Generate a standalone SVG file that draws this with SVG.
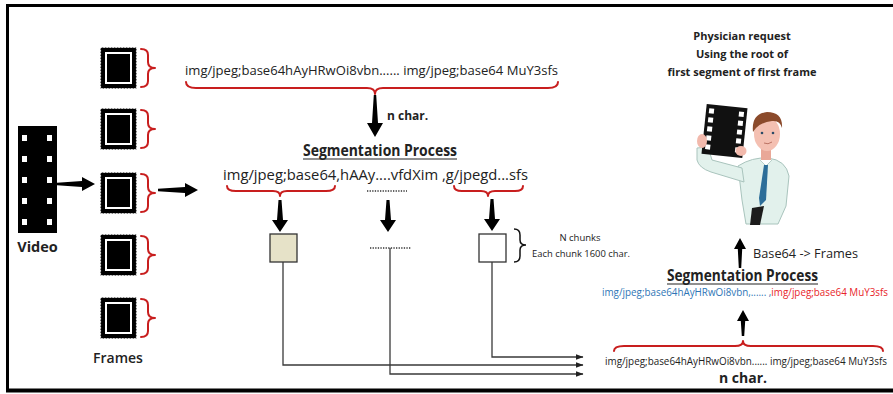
<svg xmlns="http://www.w3.org/2000/svg" width="893" height="394" viewBox="0 0 893 394">
  <defs>
    <style>
      .t { font-family: "Open Sans", "Liberation Sans", sans-serif; fill: #222; }
      .b { font-weight: bold; }
      .brace { fill: none; stroke: #c81e1e; stroke-width: 2; stroke-linecap: round; stroke-linejoin: round; }
      .blk { fill: #000; }
      .wire { fill: none; stroke: #3a3a3a; stroke-width: 1.3; }
      .frame-outer { fill: #000; stroke: #fff; stroke-width: 1.2; stroke-dasharray: 1.2 1.8; }
      .coat { fill: #e2f1ec; stroke: #a9c4bd; stroke-width: 1; }
      .skin { fill: #f2b9ac; }
    </style>
    <marker id="tip" viewBox="0 0 8 6" refX="7.5" refY="3" markerWidth="8" markerHeight="6" markerUnits="userSpaceOnUse" orient="auto">
      <path d="M0,0 L8,3 L0,6 Z" fill="#222"/>
    </marker>
    <!-- postage-stamp style frame icon, 37 x 42 -->
    <g id="stamp">
      <rect x="0.5" y="0.5" width="36" height="41" class="frame-outer"/>
      <rect x="5" y="5" width="27" height="32" fill="#fff"/>
      <rect x="7" y="7" width="23" height="28" fill="#000"/>
    </g>
    <path id="rbrace" class="brace" d="M0,2 Q7,2 7,8 L7,15 Q7,21 14,21 Q7,21 7,27 L7,34 Q7,40 0,40"/>
  </defs>

  <!-- outer frame -->
  <g id="border" fill="none" stroke="#000">
    <line x1="7.5" y1="4" x2="7.5" y2="392" stroke-width="3"/>
    <line x1="6" y1="5.5" x2="893" y2="5.5" stroke-width="3"/>
    <line x1="6" y1="390.5" x2="893" y2="390.5" stroke-width="4"/>
  </g>

  <!-- video film strip -->
  <g id="video">
    <rect x="18" y="126" width="39" height="107" fill="#000"/>
    <g fill="#fff">
      <rect x="22" y="135" width="5" height="6"/><rect x="47" y="135" width="5" height="6"/>
      <rect x="22" y="156" width="5" height="6"/><rect x="47" y="156" width="5" height="6"/>
      <rect x="22" y="177" width="5" height="6"/><rect x="47" y="177" width="5" height="6"/>
      <rect x="22" y="198" width="5" height="6"/><rect x="47" y="198" width="5" height="6"/>
      <rect x="22" y="219" width="5" height="6"/><rect x="47" y="219" width="5" height="6"/>
    </g>
    <text class="t b" x="37.5" y="252" font-size="14.5" text-anchor="middle">Video</text>
  </g>

  <!-- extracted frames -->
  <g id="frames">
    <use href="#stamp" x="100" y="47"/>
    <use href="#stamp" x="100" y="108"/>
    <use href="#stamp" x="100" y="172"/>
    <use href="#stamp" x="100" y="234"/>
    <use href="#stamp" x="100" y="297"/>
    <use href="#rbrace" x="141" y="47"/>
    <use href="#rbrace" x="141" y="108"/>
    <use href="#rbrace" x="141" y="172"/>
    <use href="#rbrace" x="141" y="234"/>
    <use href="#rbrace" x="141" y="297"/>
    <text class="t" x="118" y="363" font-size="14" font-weight="600" text-anchor="middle">Frames</text>
  </g>

  <!-- base64 string of one frame -->
  <g id="frame-string">
    <text class="t" x="185" y="75" font-size="13" textLength="373" lengthAdjust="spacingAndGlyphs">img/jpeg;base64hAyHRwOi8vbn...... img/jpeg;base64 MuY3sfs</text>
    <path class="brace" d="M186,82 Q186,88 196,88 L367,88 Q375,88 375,94 Q375,88 383,88 L548,88 Q558,88 558,82"/>
    <text class="t b" x="387" y="120" font-size="12">n char.</text>
  </g>

  <!-- segmentation of the string -->
  <g id="segmentation">
    <text class="t b" x="380" y="156" font-size="16" text-anchor="middle" textLength="154" lengthAdjust="spacingAndGlyphs">Segmentation Process</text>
    <line x1="303" y1="159" x2="457" y2="159" stroke="#222" stroke-width="1.2"/>
    <text class="t" x="223" y="180" font-size="15" textLength="305" lengthAdjust="spacingAndGlyphs">img/jpeg;base64,hAAy....vfdXim ,g/jpegd...sfs</text>
    <path class="brace" d="M227,186 Q227,191 236,191 L273,191 Q280,191 280,196 Q280,191 287,191 L326,191 Q335,191 335,186"/>
    <path class="brace" d="M454,186 Q454,191 462,191 L481,191 Q488,191 488,196 Q488,191 495,191 L515,191 Q523,191 523,186"/>
    <line x1="367" y1="191" x2="407" y2="191" stroke="#333" stroke-width="1.3" stroke-dasharray="1.3 1.3"/>
  </g>

  <!-- chunks -->
  <g id="chunk-first">
    <rect x="270" y="234" width="27" height="28" fill="#e6e2c8" stroke="#333" stroke-width="1.3"/>
  </g>
  <g id="chunk-middle">
    <line x1="370" y1="248" x2="411" y2="248" stroke="#333" stroke-width="1.3" stroke-dasharray="1.3 1.3"/>
  </g>
  <g id="chunk-last">
    <rect x="479" y="234" width="27" height="28" fill="#fff" stroke="#333" stroke-width="1.3"/>
    <path d="M514,229 Q520,229 520,235 L520,240 Q520,245 526,245 Q520,245 520,250 L520,256 Q520,262 514,262" fill="none" stroke="#111" stroke-width="1.5"/>
    <text class="t" x="580" y="241" font-size="9.5" text-anchor="middle">N chunks</text>
    <text class="t" x="532" y="257" font-size="9.5" textLength="98" lengthAdjust="spacingAndGlyphs">Each chunk 1600 char.</text>
  </g>

  <!-- physician -->
  <g id="physician">
    <text class="t b" x="742" y="40" font-size="11" text-anchor="middle">Physician request</text>
    <text class="t b" x="742" y="58" font-size="11" text-anchor="middle">Using the root of</text>
    <text class="t b" x="742" y="76" font-size="11" text-anchor="middle">first segment of first frame</text>
    <!-- coat body, tapering toward the hem -->
    <path class="coat" d="M738,166 Q752,157 768,158 Q786,160 789,176 L786,206 L778,224 L746,224 L742,200 Z"/>
    <!-- raised arm: forearm up to the film, upper arm back to the shoulder -->
    <path class="coat" d="M697,148 L708,147 L712,160 L742,168 L744,182 L711,172 Q699,168 697,160 Z"/>
    <!-- x-ray film -->
    <g transform="rotate(6 724 131)">
      <rect x="704" y="106" width="41" height="50" fill="#111"/>
      <g fill="#fff">
        <rect x="707" y="110" width="5" height="5"/><rect x="737" y="110" width="5" height="5"/>
        <rect x="707" y="119" width="5" height="5"/><rect x="737" y="119" width="5" height="5"/>
        <rect x="707" y="128" width="5" height="5"/><rect x="737" y="128" width="5" height="5"/>
        <rect x="707" y="137" width="5" height="5"/><rect x="737" y="137" width="5" height="5"/>
        <rect x="707" y="146" width="5" height="5"/><rect x="737" y="146" width="5" height="5"/>
      </g>
    </g>
    <!-- hands -->
    <ellipse class="skin" cx="702" cy="141" rx="5" ry="7"/>
    <ellipse class="skin" cx="741" cy="151" rx="5.5" ry="5"/>
    <!-- neck and head -->
    <rect x="761" y="148" width="10" height="12" fill="#e9a898"/>
    <ellipse cx="767" cy="134" rx="13" ry="17" fill="#f4c0b2"/>
    <path d="M753,132 Q751,114 767,112 Q783,112 782,128 Q780,120 772,121 Q762,122 756,128 Z" fill="#8b4a2b"/>
    <circle cx="762" cy="133" r="1.3" fill="#2b4a66"/>
    <circle cx="773" cy="133" r="1.3" fill="#2b4a66"/>
    <path d="M764,143 Q768,145 772,142" fill="none" stroke="#b46a5a" stroke-width="0.9"/>
    <!-- collar, tie and trousers -->
    <path d="M760,160 L766,166 L772,160" fill="#fff" stroke="#a9c4bd" stroke-width="0.8"/>
    <path d="M764,165 L768,165 L766,200 L760,206 L759,198 Z" fill="#2d6e99"/>
    <path d="M752,208 L764,206 L760,225 L750,225 Z" fill="#1c1c1c"/>
  </g>

  <!-- reassembly on the server side -->
  <g id="reassembly">
    <text class="t" x="753" y="258" font-size="13" textLength="105" lengthAdjust="spacingAndGlyphs">Base64 -&gt; Frames</text>
    <text class="t b" x="742.5" y="281" font-size="16" text-anchor="middle" textLength="151" lengthAdjust="spacingAndGlyphs">Segmentation Process</text>
    <line x1="667" y1="284" x2="818" y2="284" stroke="#222" stroke-width="1.2"/>
    <text x="602" y="296" font-size="10" font-family="Open Sans, Liberation Sans, sans-serif" textLength="286" lengthAdjust="spacingAndGlyphs"><tspan fill="#2e75b6">img/jpeg;base64hAyHRwOi8vbn,...... ,</tspan><tspan fill="#e8242a">img/jpeg;base64 MuY3sfs</tspan></text>
    <path class="brace" d="M614,351 Q614,346 624,346 L735,346 Q743,346 743,341 Q743,346 751,346 L873,346 Q883,346 883,351"/>
    <text class="t" x="605" y="365" font-size="10" textLength="282" lengthAdjust="spacingAndGlyphs">img/jpeg;base64hAyHRwOi8vbn...... img/jpeg;base64 MuY3sfs</text>
    <text class="t b" x="743" y="383" font-size="14" text-anchor="middle">n char.</text>
  </g>

  <!-- connectors -->
  <g id="connectors">
    <path class="blk" d="M57,182.8 L82,181 L82,177 L95,184 L82,191 L82,187 L57,185.2 Z"/>
    <path class="blk" d="M158,188.8 L185,187 L185,183 L198,190 L185,197 L185,193 L158,191.2 Z"/>
    <path class="blk" d="M373.8,95 L372,123 L367,123 L375,137 L383,123 L378,123 L376.2,95 Z"/>
    <path class="blk" d="M278.5,200 L277,220 L272,220 L280,232 L288,220 L283,220 L281.5,200 Z"/>
    <path class="blk" d="M386.5,200 L385,220 L380,220 L388,232 L396,220 L391,220 L389.5,200 Z"/>
    <path class="blk" d="M490.5,199 L489,219 L484,219 L492,231 L500,219 L495,219 L493.5,199 Z"/>
    <path class="blk" d="M738.8,268 L737.8,249 L734,249 L740,238 L746,249 L742.2,249 L741.2,268 Z"/>
    <path class="blk" d="M741.8,336 L740.8,321 L737,321 L743,310 L749,321 L745.2,321 L744.2,336 Z"/>
    <polyline class="wire" points="492,262 492,357 583,357" marker-end="url(#tip)"/>
    <polyline class="wire" points="283,262 283,365 583,365" marker-end="url(#tip)"/>
    <polyline class="wire" points="390,248 390,374 583,374" marker-end="url(#tip)"/>
  </g>
</svg>
